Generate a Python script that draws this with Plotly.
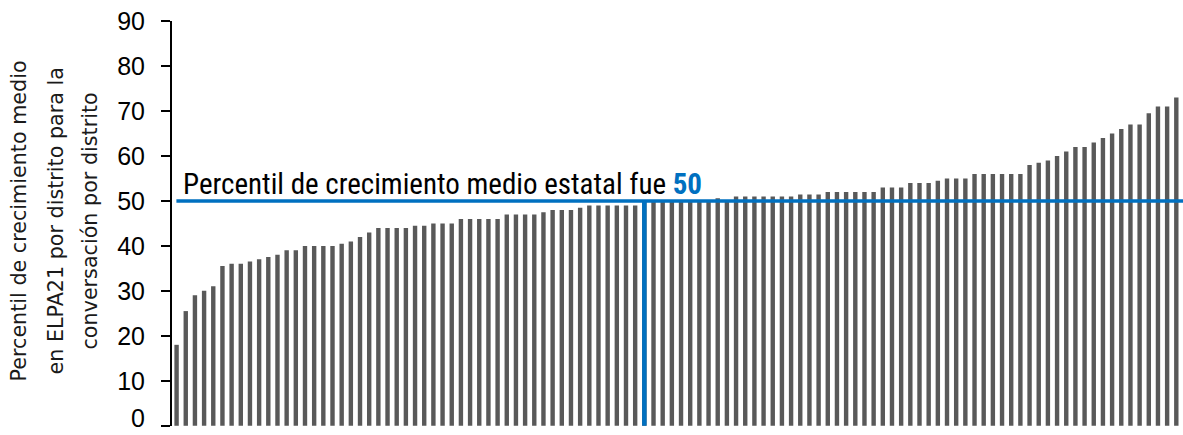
import plotly.graph_objects as go

districts = list(range(1, 111))
growth_percentile = [
    18, 25.5, 29, 30, 31, 35.5, 36, 36, 36.5, 37,
    37.5, 38, 39, 39, 40, 40, 40, 40, 40.5, 41,
    42, 43, 44, 44, 44, 44, 44.5, 44.5, 45, 45,
    45, 46, 46, 46, 46, 46, 47, 47, 47, 47,
    47.5, 48, 48, 48, 48.5, 49, 49, 49, 49, 49,
    49, 50, 50, 50, 50, 50, 50, 50, 50, 50.6,
    50.2, 51, 51, 51, 51, 51, 51, 51, 51.4, 51.4,
    51.4, 52, 52, 52, 52, 52, 52, 53, 53, 53,
    54, 54, 54, 54.5, 55, 55, 55, 56, 56, 56,
    56, 56, 56, 58, 58.5, 59, 60, 61, 62, 62,
    63, 64, 65, 66, 67, 67, 69.5, 71, 71, 73,
]
state_median = 50
median_district = 52
y_ticks = [0, 10, 20, 30, 40, 50, 60, 70, 80, 90]
y_tick_labels = ["0", "10", "20", "30", "40", "50", "60", "70", "80", "90"]
y_title_lines = ["Percentil de crecimiento medio", "en ELPA21 por distrito para la", "conversación por distrito"]
label_text = "Percentil de crecimiento medio estatal fue "

BAR = "#595959"
BLUE = "#0070C0"
NARROW = "Roboto Condensed, Liberation Sans Narrow, DejaVu Sans Condensed, sans-serif"
WIDE = "DejaVu Sans, Verdana, sans-serif"
TICKFONT = dict(family="Liberation Sans, Arial, sans-serif", size=25, color="black")

W, H = 1183, 435
ML, MR, MT, MB = 172, 0, 21, 9
PW, PH = W - ML - MR, H - MT - MB

x_idx = list(range(len(districts)))
fig = go.Figure(go.Bar(x=x_idx, y=growth_percentile, marker=dict(color=BAR, line=dict(width=0)),
                       hoverinfo="skip"))

x_max = 109.73
fig.add_shape(type="line", xref="x", yref="y", x0=-0.02, x1=x_max, y0=state_median, y1=state_median,
              line=dict(color=BLUE, width=3.5))
mi = districts.index(median_district)
fig.add_shape(type="line", xref="x", yref="y", x0=mi, x1=mi, y0=0, y1=state_median,
              line=dict(color=BLUE, width=4.5))

fig.add_annotation(xref="paper", yref="y", x=(181 - ML) / PW, y=state_median, xanchor="left",
                   yanchor="bottom", yshift=-2, showarrow=False,
                   text=label_text + f"<b><span style='color:{BLUE}'>{state_median}</span></b>",
                   font=dict(family=NARROW, size=29, color="black"))

title_centers_px = [19, 56, 90]
for line, cx in zip(y_title_lines, title_centers_px):
    fig.add_annotation(xref="paper", yref="paper", x=(cx - ML) / PW, y=(H - MB - 221.5) / PH,
                       xanchor="center", yanchor="middle", textangle=-90, showarrow=False,
                       text=line, font=dict(family=WIDE, size=20.7, color="#1a1a1a"))

# the bottom tick label sits at the lower edge; keep it fully inside the picture
fig.add_annotation(xref="paper", yref="y", x=(147 - ML) / PW, y=y_ticks[0], xanchor="right",
                   yanchor="bottom", yshift=-(MB - 1), showarrow=False, text=y_tick_labels[0],
                   font=TICKFONT)

fig.update_layout(
    width=W, height=H,
    margin=dict(l=ML, r=MR, t=MT, b=MB),
    plot_bgcolor="white", paper_bgcolor="white",
    bargap=0.52, showlegend=False,
    xaxis=dict(range=[-0.5, x_max], showticklabels=False, showgrid=False, zeroline=False,
               showline=False, ticks=""),
    yaxis=dict(range=[-0.05, 90], tickvals=y_ticks, ticktext=[""] + y_tick_labels[1:],
               ticks="outside", ticklen=9, tickcolor="black",
               tickwidth=1.5, showline=True, linecolor="black", linewidth=2, showgrid=False,
               zeroline=False, ticklabelstandoff=11, automargin=False, ticklabeloverflow="allow",
               tickfont=TICKFONT),
)

fig.write_html("out.html", config={"displayModeBar": False},
               post_script="document.body.style.margin='0';")
